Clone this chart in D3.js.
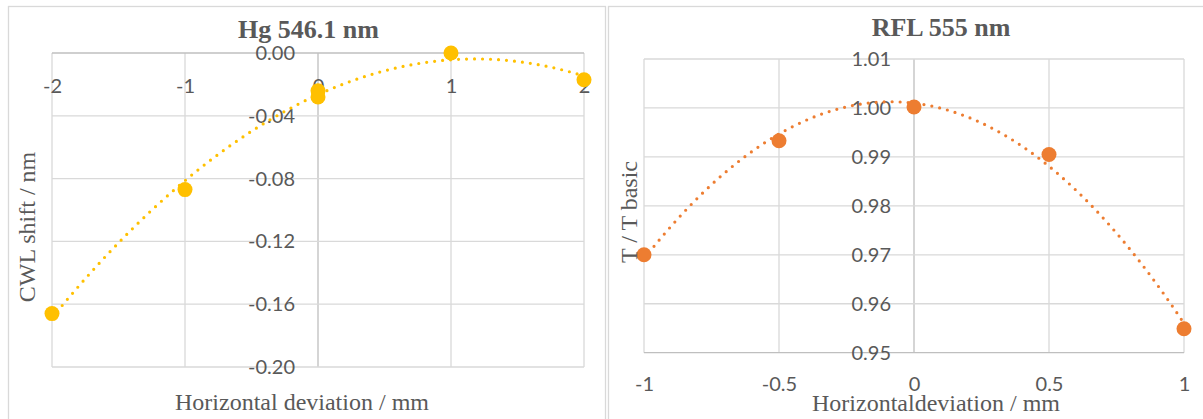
<!DOCTYPE html>
<html>
<head>
<meta charset="utf-8">
<script src="https://cdn.jsdelivr.net/npm/d3@7"></script>
<style>
  body { margin: 0; background: #fff; }
  svg { display: block; }
  .tick-label { font-family: Lato, "Open Sans", sans-serif; font-size: 20px; fill: #595959; }
  .axis-title { font-family: "Liberation Serif", "Times New Roman", serif; font-size: 24px; fill: #595959; }
  .chart-title { font-family: "Liberation Serif", "Times New Roman", serif; font-size: 26px; font-weight: bold; fill: #595959; }
</style>
</head>
<body>
<div id="chart"></div>
<script>
// Hg 546.1 nm
const hgX = [-2, -1, 0, 0, 1, 2];
const hgY = [-0.166, -0.087, -0.024, -0.028, 0.000, -0.017];
const hgXTicks = [-2, -1, 0, 1, 2];
const hgYTicks = [0, -0.04, -0.08, -0.12, -0.16, -0.20];

// RFL 555 nm
const rflX = [-1, -0.5, 0, 0.5, 1];
const rflY = [0.970, 0.9933, 1.0002, 0.9905, 0.9549];
const rflXTicks = [-1, -0.5, 0, 0.5, 1];
const rflYTicks = [0.95, 0.96, 0.97, 0.98, 0.99, 1.00, 1.01];

const W = 1203, H = 419;
const GRID = "#d9d9d9", AXIS = "#bfbfbf";

// excel style labels use a plain hyphen for minus
const fmt2 = d => d.toFixed(2).replace("\u2212", "-");
const fmtPlain = d => String(d);

const svg = d3.select("#chart").append("svg")
  .attr("width", W).attr("height", H);

// chart frames
svg.append("rect").attr("x", 8.5).attr("y", 6.5).attr("width", 597).attr("height", 430)
  .attr("fill", "none").attr("stroke", GRID).attr("stroke-width", 1.3);
svg.append("rect").attr("x", 608.5).attr("y", 6.5).attr("width", 610).attr("height", 430)
  .attr("fill", "none").attr("stroke", GRID).attr("stroke-width", 1.3);

// least squares quadratic, like the excel polynomial trendline
function quadFit(xs, ys) {
  let s = [0, 0, 0, 0, 0], t = [0, 0, 0];
  xs.forEach((x, i) => {
    for (let k = 0; k < 5; k++) s[k] += Math.pow(x, k);
    for (let k = 0; k < 3; k++) t[k] += Math.pow(x, k) * ys[i];
  });
  const m = [[s[0], s[1], s[2], t[0]], [s[1], s[2], s[3], t[1]], [s[2], s[3], s[4], t[2]]];
  for (let i = 0; i < 3; i++) {
    for (let j = i + 1; j < 3; j++) {
      const f = m[j][i] / m[i][i];
      for (let k = i; k < 4; k++) m[j][k] -= f * m[i][k];
    }
  }
  const c = [0, 0, 0];
  for (let i = 2; i >= 0; i--) {
    let v = m[i][3];
    for (let k = i + 1; k < 3; k++) v -= m[i][k] * c[k];
    c[i] = v / m[i][i];
  }
  return x => c[0] + c[1] * x + c[2] * x * x;
}

function drawPanel(cfg) {
  const x = d3.scaleLinear().domain(cfg.xDomain).range(cfg.xRange);
  const y = d3.scaleLinear().domain(cfg.yDomain).range(cfg.yRange);
  const g = svg.append("g");

  // grid
  g.selectAll("line.vg").data(cfg.xTicks).join("line")
    .attr("x1", d => x(d)).attr("x2", d => x(d))
    .attr("y1", y.range()[0]).attr("y2", y.range()[1])
    .attr("stroke", d => d === 0 ? AXIS : GRID).attr("stroke-width", 1.3);
  g.selectAll("line.hg").data(cfg.yTicks).join("line")
    .attr("x1", x.range()[0]).attr("x2", x.range()[1])
    .attr("y1", d => y(d)).attr("y2", d => y(d))
    .attr("stroke", d => d === cfg.xAxisAt ? AXIS : GRID).attr("stroke-width", 1.3);

  // y tick labels (axis at x = 0)
  const yAxis = g.append("g")
    .attr("transform", `translate(${x(0)},0)`)
    .call(d3.axisLeft(y).tickValues(cfg.yTicks).tickSize(0).tickPadding(23).tickFormat(fmt2));
  yAxis.select(".domain").remove();
  yAxis.selectAll("text").attr("class", "tick-label");
  yAxis.attr("font-size", null).attr("font-family", null);

  // x tick labels
  const xAxis = g.append("g")
    .attr("transform", `translate(0,${y(cfg.xAxisAt)})`)
    .call(d3.axisBottom(x).tickValues(cfg.xTicks).tickSize(0).tickPadding(cfg.xPad).tickFormat(fmtPlain));
  xAxis.select(".domain").remove();
  xAxis.selectAll("text").attr("class", "tick-label");
  xAxis.attr("font-size", null).attr("font-family", null);

  // trendline
  const fit = quadFit(cfg.xs, cfg.ys);
  const xs = d3.range(0, 201).map(i => cfg.xDomain[0] + (cfg.xDomain[1] - cfg.xDomain[0]) * i / 200);
  g.append("path")
    .datum(xs)
    .attr("d", d3.line().x(d => x(d)).y(d => y(fit(d))))
    .attr("fill", "none")
    .attr("stroke", cfg.color)
    .attr("stroke-width", 3.2)
    .attr("stroke-linecap", "round")
    .attr("stroke-dasharray", "0 8");

  // markers
  g.selectAll("circle").data(cfg.xs.map((d, i) => [d, cfg.ys[i]])).join("circle")
    .attr("cx", d => x(d[0])).attr("cy", d => y(d[1])).attr("r", 7.5)
    .attr("fill", cfg.color);

  svg.append("text").attr("class", "chart-title")
    .attr("x", cfg.title[1]).attr("y", cfg.title[2]).attr("text-anchor", "middle").text(cfg.title[0]);
  svg.append("text").attr("class", "axis-title")
    .attr("x", cfg.xTitle[1]).attr("y", cfg.xTitle[2]).attr("text-anchor", "middle").text(cfg.xTitle[0]);
  svg.append("text").attr("class", "axis-title")
    .attr("transform", `translate(${cfg.yTitle[1]},${cfg.yTitle[2]}) rotate(-90)`)
    .attr("text-anchor", "middle").text(cfg.yTitle[0]);
}

drawPanel({
  xs: hgX, ys: hgY, color: "#FFC000",
  xDomain: [-2, 2], xRange: [52, 584],
  yDomain: [0, -0.2], yRange: [53, 367],
  xTicks: hgXTicks, yTicks: hgYTicks, xAxisAt: 0, xPad: 26,
  title: ["Hg 546.1 nm", 308.5, 38],
  xTitle: ["Horizontal deviation / mm", 302, 410],
  yTitle: ["CWL shift / nm", 35, 227]
});

drawPanel({
  xs: rflX, ys: rflY, color: "#ED7D31",
  xDomain: [-1, 1], xRange: [644, 1184],
  yDomain: [0.95, 1.01], yRange: [352.7, 59],
  xTicks: rflXTicks, yTicks: rflYTicks, xAxisAt: 0.95, xPad: 24,
  title: ["RFL 555 nm", 941, 36],
  xTitle: ["Horizontaldeviation / mm", 936, 411],
  yTitle: ["T / T basic", 637, 212]
});
</script>
</body>
</html>
